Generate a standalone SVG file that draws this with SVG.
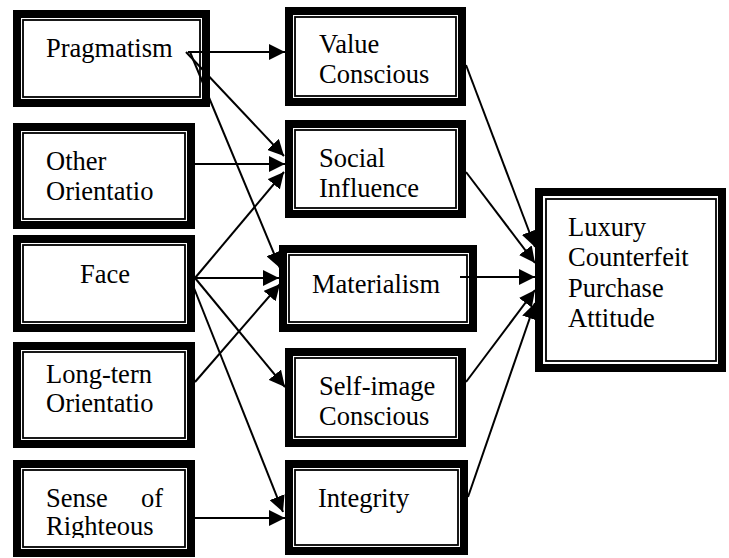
<svg xmlns="http://www.w3.org/2000/svg" width="729" height="558" viewBox="0 0 729 558">
  <style>
    .outer { fill: #fff; stroke: #000; stroke-width: 8; }
    .inner { fill: none; stroke: #000; stroke-width: 1.8; }
    .lbl { font-size: 26.5px; fill: #000; }
    .edge { stroke: #000; stroke-width: 2; fill: none; marker-end: url(#arrow); }
  </style>
  <defs>
    <marker id="arrow" markerUnits="userSpaceOnUse" markerWidth="16" markerHeight="16" refX="16" refY="8" orient="auto">
      <path d="M0,0 L16,8 L0,16 Z" fill="#000"/>
    </marker>
    <clipPath id="clipSense">
      <rect x="13" y="460" width="182" height="78"/>
    </clipPath>
  </defs>
  <rect width="729" height="558" fill="#fff"/>

  <g font-family="'Liberation Serif', 'DejaVu Serif', serif">
  <!-- left column -->
  <g id="pragmatism">
    <rect class="outer" x="17" y="14" width="189" height="89"/>
    <rect class="inner" x="23" y="20" width="177" height="77"/>
    <text class="lbl" x="46" y="57">Pragmatism</text>
  </g>
  <g id="other-orientation">
    <rect class="outer" x="17" y="127" width="174" height="98"/>
    <rect class="inner" x="23" y="133" width="162" height="86"/>
    <text class="lbl" x="46" y="170">Other</text>
    <text class="lbl" x="46" y="200">Orientatio</text>
  </g>
  <g id="face">
    <rect class="outer" x="17" y="239" width="174" height="89"/>
    <rect class="inner" x="23" y="245" width="162" height="77"/>
    <text class="lbl" x="80" y="283">Face</text>
  </g>
  <g id="long-term-orientation">
    <rect class="outer" x="17" y="346" width="174" height="98"/>
    <rect class="inner" x="23" y="352" width="162" height="86"/>
    <text class="lbl" x="46" y="383">Long-tern</text>
    <text class="lbl" x="46" y="412">Orientatio</text>
  </g>
  <g id="sense-of-righteous">
    <rect class="outer" x="17" y="464" width="174" height="89"/>
    <rect class="inner" x="23" y="470" width="162" height="77"/>
    <g clip-path="url(#clipSense)">
      <text class="lbl" x="46" y="507">Sense</text>
      <text class="lbl" x="163" y="507" text-anchor="end">of</text>
      <text class="lbl" x="46" y="535">Righteous</text>
    </g>
  </g>

  <!-- middle column -->
  <g id="value-conscious">
    <rect class="outer" x="289" y="11" width="173" height="91"/>
    <rect class="inner" x="295" y="17" width="161" height="79"/>
    <text class="lbl" x="319" y="53">Value</text>
    <text class="lbl" x="319" y="83">Conscious</text>
  </g>
  <g id="social-influence">
    <rect class="outer" x="289" y="124" width="173" height="90"/>
    <rect class="inner" x="295" y="130" width="161" height="78"/>
    <text class="lbl" x="319" y="167">Social</text>
    <text class="lbl" x="319" y="197">Influence</text>
  </g>
  <g id="materialism">
    <rect class="outer" x="283" y="249" width="190" height="79"/>
    <rect class="inner" x="289" y="255" width="178" height="67"/>
    <text class="lbl" x="312" y="293">Materialism</text>
  </g>
  <g id="self-image-conscious">
    <rect class="outer" x="289" y="352" width="173" height="91"/>
    <rect class="inner" x="295" y="358" width="161" height="79"/>
    <text class="lbl" x="319" y="395">Self-image</text>
    <text class="lbl" x="319" y="425">Conscious</text>
  </g>
  <g id="integrity">
    <rect class="outer" x="289" y="464" width="175" height="87"/>
    <rect class="inner" x="295" y="470" width="163" height="75"/>
    <text class="lbl" x="318" y="507">Integrity</text>
  </g>

  <!-- outcome -->
  <g id="luxury-attitude">
    <rect class="outer" x="539" y="192" width="183" height="176"/>
    <rect class="inner" x="546" y="199" width="170" height="162"/>
    <text class="lbl" x="568" y="236">Luxury</text>
    <text class="lbl" x="568" y="266">Counterfeit</text>
    <text class="lbl" x="568" y="297">Purchase</text>
    <text class="lbl" x="568" y="327">Attitude</text>
  </g>
  </g>

  <!-- paths -->
  <g id="connectors">
    <line class="edge" x1="188" y1="52" x2="285" y2="52"/>
    <line class="edge" x1="186" y1="52" x2="284" y2="156"/>
    <line class="edge" x1="190" y1="52" x2="280" y2="268"/>
    <line class="edge" x1="195" y1="164" x2="285" y2="164"/>
    <line class="edge" x1="195" y1="278" x2="284" y2="172"/>
    <line class="edge" x1="195" y1="278" x2="279" y2="278"/>
    <line class="edge" x1="195" y1="278" x2="285" y2="387"/>
    <line class="edge" x1="190" y1="278" x2="283" y2="512"/>
    <line class="edge" x1="195" y1="382" x2="280" y2="284"/>
    <line class="edge" x1="195" y1="518" x2="285" y2="518"/>
    <line class="edge" x1="466" y1="65" x2="535" y2="247"/>
    <line class="edge" x1="466" y1="172" x2="535" y2="263"/>
    <line class="edge" x1="460" y1="277" x2="535" y2="277"/>
    <line class="edge" x1="466" y1="382" x2="535" y2="290"/>
    <line class="edge" x1="468" y1="497" x2="535" y2="303"/>
  </g>
</svg>
